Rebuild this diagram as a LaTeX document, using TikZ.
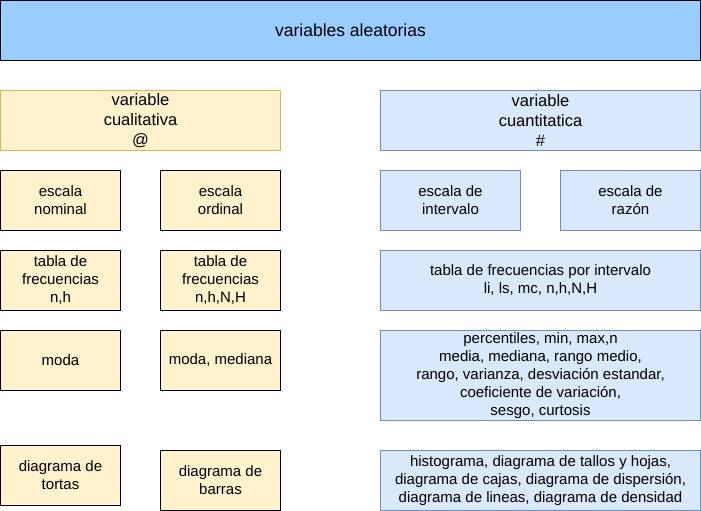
\documentclass[tikz,border=0pt]{standalone}
\usepackage{fontspec}
\setmainfont{Liberation Sans}
\definecolor{titlefill}{HTML}{99CCFF}
\definecolor{qualfill}{HTML}{FFF2CC}
\definecolor{qualline}{HTML}{D6B656}
\definecolor{quantfill}{HTML}{DAE8FC}
\definecolor{quantline}{HTML}{6C8EBF}
\begin{document}
\begin{tikzpicture}[x=1pt,y=-1pt,
  box/.style={draw, line width=1pt, align=center, inner sep=0pt,
    font=\fontsize{15}{18}\selectfont},
  sz/.style 2 args={minimum width=#1pt, minimum height=#2pt},
  titlebox/.style={box, fill=titlefill, draw=black, font=\fontsize{17.5}{21}\selectfont},
  qualhead/.style={box, fill=qualfill, draw=qualline, font=\fontsize{16.5}{20}\selectfont},
  quanthead/.style={box, fill=quantfill, draw=quantline, font=\fontsize{16.5}{20}\selectfont},
  qual/.style={box, fill=qualfill, draw=black},
  quant/.style={box, fill=quantfill, draw=quantline},
]
\useasboundingbox (-0.5,-0.5) rectangle (700.5,510.5);

% title
\node[titlebox, sz={700}{60}] (title) at (350,30) {variables aleatorias};

% headings of the two branches
\node[qualhead, sz={280}{60}] (cual) at (140,120) {variable\\cualitativa\\@};
\node[quanthead, sz={320}{60}] (cuant) at (540,120) {variable\\cuantitatica\\\#};

% scales
\node[qual, sz={120}{60}] (nominal) at (60,200) {escala\\nominal};
\node[qual, sz={120}{60}] (ordinal) at (220,200) {escala\\ordinal};
\node[quant, sz={140}{60}] (intervalo) at (450,200) {escala de\\intervalo};
\node[quant, sz={140}{60}] (razon) at (630,200) {escala de\\razón};

% frequency tables
\node[qual, sz={120}{60}] (tabnom) at (60,280) {tabla de\\frecuencias\\n,h};
\node[qual, sz={120}{60}] (tabord) at (220,280) {tabla de\\frecuencias\\n,h,N,H};
\node[quant, sz={320}{60}] (tabint) at (540,280) {tabla de frecuencias por intervalo\\li, ls, mc, n,h,N,H};

% measures
\node[qual, sz={120}{60}] (moda) at (60,360) {moda};
\node[qual, sz={120}{60}] (modamed) at (220,360) {moda, mediana};
\node[quant, sz={320}{90}] (medidas) at (540,375) {percentiles, min, max,n\\media, mediana, rango medio,\\rango, varianza, desviación estandar,\\coeficiente de variación,\\sesgo, curtosis};

% charts
\node[qual, sz={120}{60}] (tortas) at (60,475) {diagrama de\\tortas};
\node[qual, sz={120}{60}] (barras) at (220,480) {diagrama de\\barras};
\node[quant, sz={320}{60}] (graficos) at (540,480) {histograma, diagrama de tallos y hojas,\\diagrama de cajas, diagrama de dispersión,\\diagrama de lineas, diagrama de densidad};
\end{tikzpicture}
\end{document}
